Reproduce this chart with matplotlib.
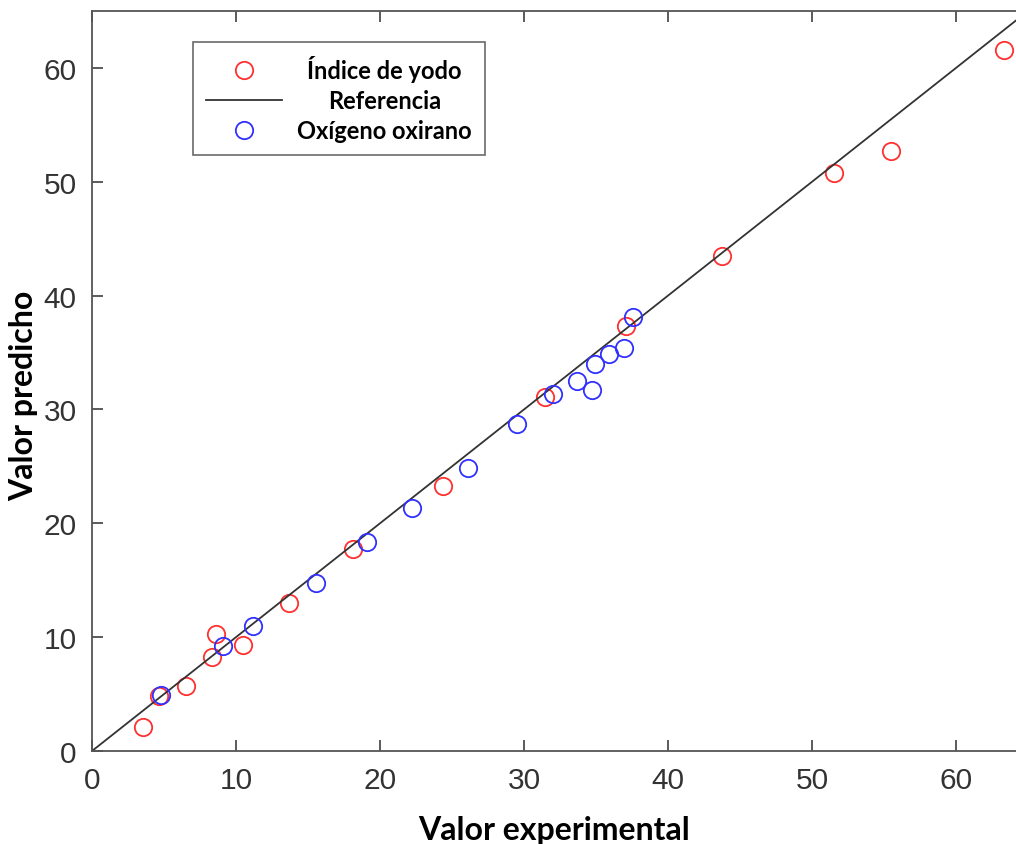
import numpy as np
import matplotlib
matplotlib.use("Agg")
import matplotlib.pyplot as plt

# Índice de yodo: experimental vs predicted
yodo_exp = [3.54, 4.65, 6.5, 8.36, 8.61, 10.49, 13.68, 18.1, 24.4, 31.46,
            37.06, 43.75, 51.55, 55.5, 63.3]
yodo_pred = [2.1, 4.8, 5.7, 8.3, 10.3, 9.35, 13.0, 17.7, 23.3, 31.1,
             37.35, 43.45, 50.75, 52.7, 61.6]

# Oxígeno oxirano: experimental vs predicted
oxi_exp = [4.79, 9.07, 11.2, 15.56, 19.1, 22.2, 26.1, 29.49, 31.99, 33.7,
           34.74, 34.9, 35.9, 36.94, 37.59]
oxi_pred = [4.93, 9.23, 10.96, 14.78, 18.38, 21.37, 24.9, 28.76, 31.4, 32.5,
            31.75, 33.95, 34.9, 35.42, 38.1]

ref_line = [0, 65]
ticks = [0, 10, 20, 30, 40, 50, 60]

tick_font = ['Liberation Sans', 'DejaVu Sans']
label_font = ['Lato', 'DejaVu Sans']

fig = plt.figure(figsize=(10.16, 8.45), dpi=100)
ax = fig.add_axes([92 / 1016, 93 / 845, 936 / 1016, 740 / 845])

ax.plot(yodo_exp, yodo_pred, 'o', ms=12.5, mfc='none', mec='#ff3030', mew=1.3,
        label='Índice de yodo')
ax.plot(ref_line, ref_line, '-', color='#333333', lw=1.3, label='Referencia')
ax.plot(oxi_exp, oxi_pred, 'o', ms=12.5, mfc='none', mec='#3030ff', mew=1.3,
        label='Oxígeno oxirano')

ax.set_xlim(0, 65)
ax.set_ylim(0, 65)
ax.set_xticks(ticks)
ax.set_yticks(ticks)
ax.tick_params(direction='in', length=8, width=1.2, colors='#404040',
               top=True, right=True, labelsize=21.5, pad=11)
for lab in ax.get_xticklabels() + ax.get_yticklabels():
    lab.set_family(tick_font)
    lab.set_color('#333333')
for s in ax.spines.values():
    s.set_color('#555555')
    s.set_linewidth(1.3)

ax.set_xlabel('Valor experimental', family=label_font, fontweight='bold',
              fontsize=23)
ax.set_ylabel('Valor predicho', family=label_font, fontweight='bold',
              fontsize=23)
ax.xaxis.set_label_coords(0.494, -0.086)
ax.yaxis.set_label_coords(-0.058, 0.481)

leg = ax.legend(loc='upper left', bbox_to_anchor=(0.108, 0.958),
                borderaxespad=0, fancybox=False, handlelength=3.2,
                handletextpad=0.65, labelspacing=0.3, borderpad=0.55,
                prop={'family': label_font, 'weight': 'bold', 'size': 17})
leg.get_frame().set_edgecolor('#444444')
leg.get_frame().set_linewidth(1.2)

# center the legend entries on the widest one
fig.canvas.draw()
r = fig.canvas.get_renderer()
texts = leg.get_texts()
widths = [t.get_window_extent(r).width for t in texts]
for t, w in zip(texts, widths):
    t.set_x((max(widths) - w) / 2)

fig.savefig('out.png', dpi=100)
